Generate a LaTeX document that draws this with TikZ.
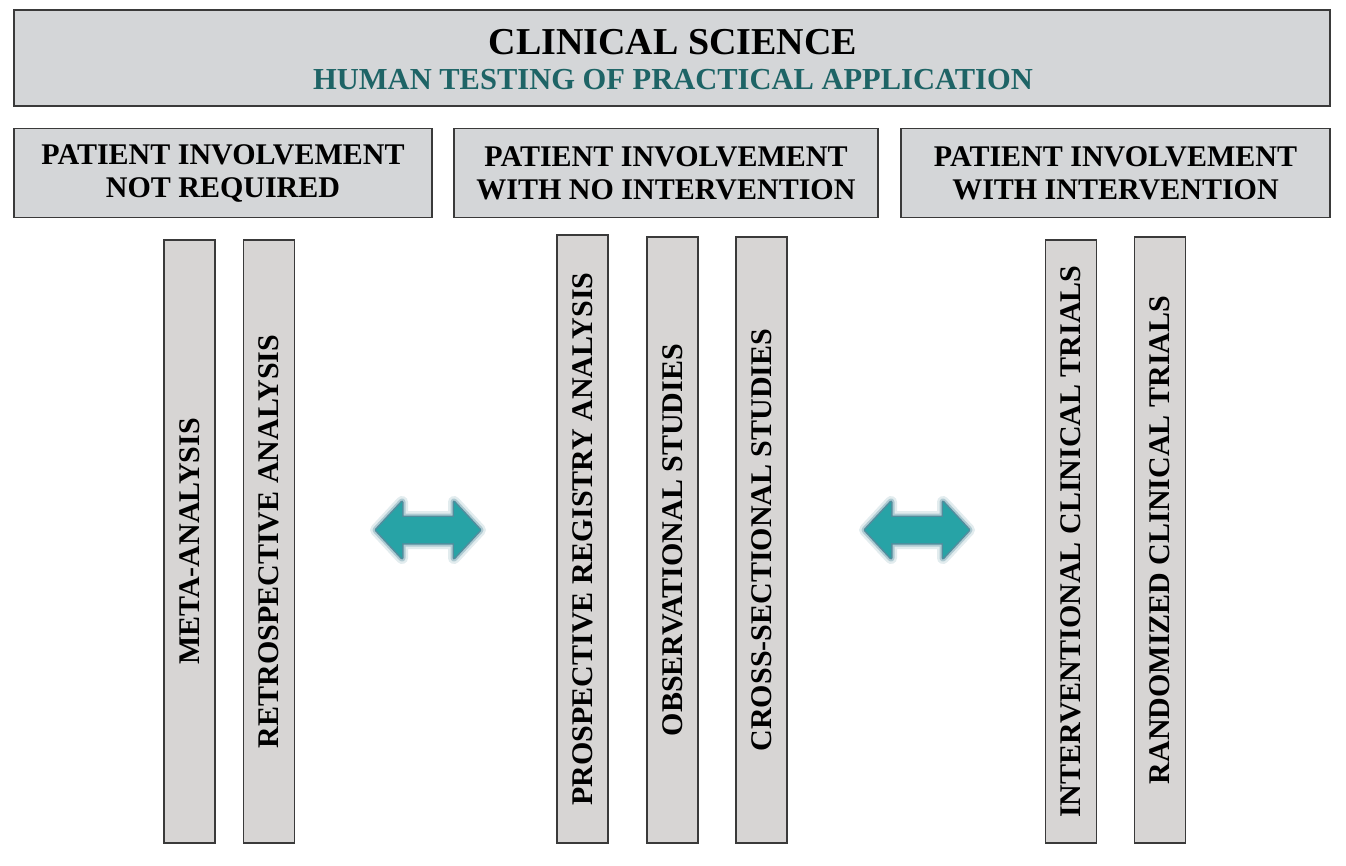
\documentclass[tikz,border=0pt]{standalone}
\usepackage{fontspec}
\setmainfont{Liberation Serif}
\usetikzlibrary{positioning}
\definecolor{boxfill}{HTML}{D4D6D8}
\definecolor{barfill}{HTML}{D7D5D4}
\definecolor{boxline}{HTML}{3A3A3A}
\definecolor{subteal}{HTML}{1E6466}
\definecolor{arrowfill}{HTML}{27A3A6}
\definecolor{arrowglow}{HTML}{3A7E90}
\tikzset{
  panel/.style={draw=boxline, line width=1.8pt, fill=boxfill, inner sep=0pt},
  headbox/.style={panel, minimum height=89pt, align=center,
    font=\bfseries\fontsize{30}{33}\selectfont},
  barbox/.style={draw=boxline, line width=1.6pt, fill=barfill, inner sep=0pt,
    rotate=90, minimum width=603pt, minimum height=51pt,
    font=\bfseries\fontsize{30}{33}\selectfont},
  glowA/.style={draw=arrowglow, line width=12pt, line join=round, opacity=0.15},
  glowB/.style={draw=arrowglow, line width=7pt, line join=round, opacity=0.3},
  glowC/.style={draw=arrowglow, line width=3pt, line join=round, opacity=0.8},
  arrowbody/.style={fill=arrowfill},
}
\newcommand{\dblarrow}[2]{%
  % #1 = center coordinate name, #2 = style
  \path[#2] ([xshift=-52pt]#1) -- ([xshift=-26pt,yshift=28pt]#1) -- ([xshift=-26pt,yshift=13pt]#1)
    -- ([xshift=26pt,yshift=13pt]#1) -- ([xshift=26pt,yshift=28pt]#1) -- ([xshift=52pt]#1)
    -- ([xshift=26pt,yshift=-28pt]#1) -- ([xshift=26pt,yshift=-13pt]#1)
    -- ([xshift=-26pt,yshift=-13pt]#1) -- ([xshift=-26pt,yshift=-28pt]#1) -- cycle;}
\begin{document}
\begin{tikzpicture}[x=1pt,y=-1pt]
\useasboundingbox (0,0) rectangle (1346,865);
% top banner
\node[panel, minimum width=1316pt, minimum height=96pt] (top) at (672,58) {};
\node[font=\bfseries\fontsize{38}{40}\selectfont, inner sep=0pt, anchor=base] (title) at (673,54) {CLINICAL SCIENCE};
\node[font=\bfseries\fontsize{30.5}{32}\selectfont, text=subteal, inner sep=0pt, anchor=base] (subtitle) at (673,89) {HUMAN TESTING OF PRACTICAL APPLICATION};
% category headers
\node[headbox, minimum width=418pt] (h1) at (223,173) {PATIENT INVOLVEMENT\\NOT REQUIRED};
\node[headbox, minimum width=424pt] (h2) at (666,173) {PATIENT INVOLVEMENT\\WITH NO INTERVENTION};
\node[headbox, minimum width=429pt] (h3) at (1115.5,173) {PATIENT INVOLVEMENT\\WITH INTERVENTION};
% bars
\node[barbox] (meta) at (189.5,541.5) {META-ANALYSIS};
\node[barbox] (retro) at (269,541.5) {RETROSPECTIVE ANALYSIS};
\node[barbox, minimum width=608pt] (prosp) at (582.5,539) {PROSPECTIVE REGISTRY ANALYSIS};
\node[barbox, minimum width=606pt] (obs) at (672.5,540) {OBSERVATIONAL STUDIES};
\node[barbox, minimum width=606pt] (cross) at (761.5,540) {CROSS-SECTIONAL STUDIES};
\node[barbox] (interv) at (1071,541.5) {INTERVENTIONAL CLINICAL TRIALS};
\node[barbox, minimum width=606pt] (rand) at (1160,540) {RANDOMIZED CLINICAL TRIALS};
% double arrows
\coordinate (a1) at (428,530);
\coordinate (a2) at (917,530);
\dblarrow{a1}{glowA}\dblarrow{a1}{glowB}\dblarrow{a1}{glowC}\dblarrow{a1}{arrowbody}
\dblarrow{a2}{glowA}\dblarrow{a2}{glowB}\dblarrow{a2}{glowC}\dblarrow{a2}{arrowbody}
\end{tikzpicture}
\end{document}
